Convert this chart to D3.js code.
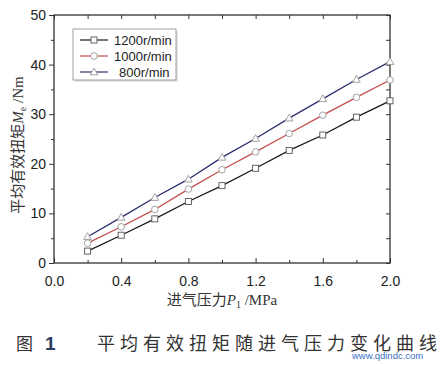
<!DOCTYPE html>
<html>
<head>
<meta charset="utf-8">
<script src="https://cdn.jsdelivr.net/npm/d3@7"></script>
<style>
  body { margin: 0; background: #fff; }
  svg { display: block; }
</style>
</head>
<body>
<div class="chart"></div>
<script>
// intake pressure (MPa)
var pressure = [0.2, 0.4, 0.6, 0.8, 1.0, 1.2, 1.4, 1.6, 1.8, 2.0]
var torque1200 = [2.4, 5.6, 8.9, 12.4, 15.6, 19.1, 22.7, 25.8, 29.4, 32.7]
var torque1000 = [4.0, 7.3, 10.8, 14.9, 18.8, 22.4, 26.1, 29.8, 33.4, 36.9]
var torque800 = [5.3, 9.2, 13.2, 16.9, 21.3, 25.1, 29.2, 33.1, 37.0, 40.6]
var seriesNames = ["1200r/min", "1000r/min", "800r/min"]
var xTicks = [0.0, 0.4, 0.8, 1.2, 1.6, 2.0]
var yTicks = [0, 10, 20, 30, 40, 50]

document.addEventListener("DOMContentLoaded", runD3)
function runD3(){
  var width = 445,
      height = 365

  var svg = d3.select(".chart").append("svg")
    .attr("width", width)
    .attr("height", height)

  var x = d3.scaleLinear().domain([0, 2]).range([54, 390]),
      y = d3.scaleLinear().domain([0, 50]).range([263, 15])

  var series = [
    {name: seriesNames[0], values: torque1200, color: "#1a1a1a", shape: "square"},
    {name: seriesNames[1], values: torque1000, color: "#c0504d", shape: "circle"},
    {name: seriesNames[2], values: torque800, color: "#2b2f6e", shape: "triangle"}
  ]

  var font = "'Liberation Sans', Arial, sans-serif"
  var cjk = "'Noto Sans CJK SC', sans-serif"
  var serif = "'Liberation Serif', serif"

  // frame
  svg.append("rect")
    .attr("x", x(0)).attr("y", y(50))
    .attr("width", x(2) - x(0)).attr("height", y(0) - y(50))
    .attr("fill", "none").attr("stroke", "#222").attr("stroke-width", 1.2)

  // axes
  var minorX = d3.range(0.2, 2, 0.4)
  var minorY = d3.range(5, 50, 10)

  svg.append("g").attr("transform", `translate(0,${y(0)})`)
    .call(d3.axisBottom(x).tickValues(xTicks).tickSizeInner(-5).tickSizeOuter(0).tickFormat(d3.format(".1f")))
    .call(g => g.select(".domain").remove())
    .call(g => g.selectAll("text").attr("dy", "1.2em").attr("y", 6))
  svg.append("g").attr("transform", `translate(0,${y(0)})`)
    .call(d3.axisBottom(x).tickValues(minorX).tickSizeInner(-3).tickSizeOuter(0).tickFormat(""))
    .call(g => g.select(".domain").remove())
  svg.append("g").attr("transform", `translate(0,${y(50)})`)
    .call(d3.axisTop(x).tickValues(xTicks.concat(minorX)).tickSizeInner(-4).tickSizeOuter(0).tickFormat(""))
    .call(g => g.select(".domain").remove())

  svg.append("g").attr("transform", `translate(${x(0)},0)`)
    .call(d3.axisLeft(y).tickValues(yTicks).tickSize(5).tickPadding(3))
    .call(g => g.select(".domain").remove())
  svg.append("g").attr("transform", `translate(${x(0)},0)`)
    .call(d3.axisLeft(y).tickValues(minorY).tickSize(3).tickFormat(""))
    .call(g => g.select(".domain").remove())
  svg.append("g").attr("transform", `translate(${x(2)},0)`)
    .call(d3.axisRight(y).tickValues(yTicks.concat(minorY)).tickSizeInner(-4).tickSizeOuter(0).tickFormat(""))
    .call(g => g.select(".domain").remove())

  svg.selectAll(".tick text")
    .attr("font-family", font).attr("font-size", 14).attr("fill", "#222")
  svg.selectAll(".tick line").attr("stroke", "#333")

  // lines and markers
  var line = d3.line()
    .x((d, i) => x(pressure[i]))
    .y(d => y(d))

  function marker(sel, shape, color){
    if (shape == "square"){
      sel.append("rect").attr("x", -3).attr("y", -3).attr("width", 6).attr("height", 6)
    } else if (shape == "circle"){
      sel.append("circle").attr("r", 3.3)
    } else {
      sel.append("path").attr("d", "M0,-4L3.8,2.8L-3.8,2.8Z")
    }
    sel.selectAll("rect,circle,path")
      .attr("fill", "#fff").attr("stroke", color === "#1a1a1a" ? "#555" : "#999").attr("stroke-width", 0.9)
  }

  series.forEach(function(s){
    svg.append("path")
      .datum(s.values)
      .attr("d", line)
      .attr("fill", "none")
      .attr("stroke", s.color)
      .attr("stroke-width", 1.3)
    svg.append("g").selectAll("g")
      .data(s.values)
      .enter()
      .append("g")
      .attr("transform", (d, i) => `translate(${x(pressure[i])},${y(d)})`)
      .each(function(){ marker(d3.select(this), s.shape, s.color) })
  })

  // legend
  var legend = svg.append("g").attr("transform", "translate(73,29)")
  legend.append("rect").attr("x", 2).attr("y", 2).attr("width", 103).attr("height", 51).attr("fill", "#e6e6e6")
  legend.append("rect").attr("width", 103).attr("height", 51)
    .attr("fill", "#fff").attr("stroke", "#888").attr("stroke-width", 0.8)
  series.forEach(function(s, i){
    var row = legend.append("g").attr("transform", `translate(0,${11 + i * 16})`)
    row.append("line").attr("x1", 7).attr("x2", 35).attr("stroke", s.color).attr("stroke-width", 1.2)
    var m = row.append("g").attr("transform", "translate(21,0)")
    marker(m, s.shape, s.color)
    row.append("text").attr("x", i == 2 ? 46 : 41).attr("y", 4.5)
      .attr("font-family", font).attr("font-size", 13).attr("fill", "#222")
      .text(s.name)
  })

  // axis titles
  var xt = svg.append("text").attr("x", 222).attr("y", 305)
    .attr("text-anchor", "middle").attr("font-size", 15).attr("fill", "#333")
  xt.append("tspan").attr("font-family", cjk).text("进气压力")
  xt.append("tspan").attr("font-family", serif).attr("font-style", "italic").text("P")
  xt.append("tspan").attr("font-family", serif).attr("font-size", 10).attr("dy", 3).text("1")
  xt.append("tspan").attr("font-family", serif).attr("dy", -3).text(" /MPa")

  var yt = svg.append("text").attr("transform", "translate(23,145) rotate(-90)")
    .attr("text-anchor", "middle").attr("font-size", 15).attr("fill", "#333")
  yt.append("tspan").attr("font-family", cjk).text("平均有效扭矩")
  yt.append("tspan").attr("font-family", serif).attr("font-style", "italic").text("M")
  yt.append("tspan").attr("font-family", serif).attr("font-size", 10).attr("dy", 3).text("e")
  yt.append("tspan").attr("font-family", serif).attr("dy", -3).text(" /Nm")

  // caption
  svg.append("text").attr("x", 16).attr("y", 350)
    .attr("font-family", cjk).attr("font-size", 17).attr("fill", "#333").text("图")
  svg.append("text").attr("x", 45).attr("y", 350)
    .attr("font-family", font).attr("font-weight", "bold").attr("font-size", 19).attr("fill", "#2a3a5a").text("1")
  svg.append("text").attr("x", 97).attr("y", 350)
    .attr("font-family", cjk).attr("font-size", 18).attr("letter-spacing", 5).attr("fill", "#333")
    .text("平均有效扭矩随进气压力变化曲线")
  svg.append("text").attr("x", 352).attr("y", 359)
    .attr("font-family", font).attr("font-size", 9.5).attr("fill", "#3a6fc4")
    .text("www.qdindc.com")
}
</script>
</body>
</html>
